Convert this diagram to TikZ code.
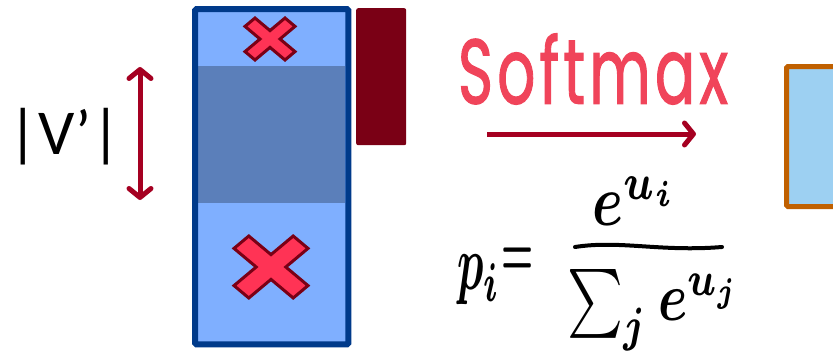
\documentclass[tikz,border=0pt]{standalone}
\usepackage{fontspec}
\usepackage{amsmath}
\usetikzlibrary{arrows.meta}
\newfontfamily\labelfont{Carlito}
\newfontfamily\handfont[FakeBold=1.5]{Poppins}
\definecolor{vecblue}{HTML}{7FAFFF}
\definecolor{vecedge}{HTML}{003A8A}
\definecolor{bandblue}{HTML}{5B7FBA}
\definecolor{darkred}{HTML}{7A0015}
\definecolor{crossred}{HTML}{FF3355}
\definecolor{arrowred}{HTML}{A50021}
\definecolor{handred}{HTML}{F0445A}
\definecolor{outblue}{HTML}{9DD0F2}
\definecolor{outedge}{HTML}{C06000}
\tikzset{
  crossmark/.style={fill=crossred, draw=darkred, line width=3pt, line join=miter},
  redline/.style={draw=arrowred, line width=5pt},
  barbtip/.tip={Straight Barb[length=9pt,width=22pt,line cap=round,line join=round]},
  ink/.style={inner sep=0pt, font=\boldmath},
}
\newcommand{\crossshape}{(-1,0.6) -- (-0.6,1) -- (0,0.4) -- (0.6,1) -- (1,0.6) -- (0.4,0) -- (1,-0.6) -- (0.6,-1) -- (0,-0.4) -- (-0.6,-1) -- (-1,-0.6) -- (-0.4,0) -- cycle}
\begin{document}
\begin{tikzpicture}[x=1pt,y=-1pt]
\useasboundingbox (0,0) rectangle (833,359);
\clip (0,0) rectangle (833,359);
% main vector
\node[fill=vecblue, minimum width=153pt, minimum height=335pt, inner sep=0pt, anchor=north west] (vec) at (195,9) {};
\fill[bandblue] (198,66) rectangle (345,203);
\draw[vecedge, line width=6pt, rounded corners=1.5pt] (vec.north west) rectangle (vec.south east);
% crosses
\begin{scope}[shift={(270,39)}, xscale=25, yscale=21]
  \path[crossmark] \crossshape;
\end{scope}
\begin{scope}[shift={(271,267)}, xscale=37, yscale=31]
  \path[crossmark] \crossshape;
\end{scope}
% dark red bar
\node[fill=darkred, rounded corners=2pt, minimum width=50pt, minimum height=137pt, inner sep=0pt, anchor=north west] (bar) at (356,8) {};
% |V'| label and arrow
\node[inner sep=0pt] (vlabel) at (65,137) {\labelfont\fontsize{64}{64}\selectfont |V’|};
\coordinate (vtop) at (140,67);
\coordinate (vbot) at (140,200);
\draw[redline, barbtip-barbtip] (vtop) -- (vbot);
% softmax
\node[inner sep=0pt, text=handred] (soft) at (593,69) {\resizebox{270pt}{70pt}{\handfont S\kern0.07em o\kern0.07em f\kern0.07em t\kern0.07em m\kern0.07em a\kern0.07em x}};
\coordinate (astart) at (487,134);
\coordinate (aend) at (696,134);
\draw[redline, -barbtip] (astart) -- (aend);
% formula
\node[ink] (pvar) at (479,280) {\scalebox{4.4}[7.8]{$p_i$}};
\node[ink] (peq) at (518,262) {\scalebox{3.6}[7]{$=$}};
\node[ink] (numer) at (635,201) {\scalebox{1}[1.3]{\resizebox{84pt}{!}{$e^{u_i}$}}};
\coordinate (bar1) at (575,247);
\coordinate (bar2) at (722,247);
\draw[line width=4pt, line cap=round] (bar1) .. controls (620,240) and (660,252) .. (bar2);
\node[ink] (denom) at (654,310) {\scalebox{1}[1.3]{\resizebox{172pt}{!}{$\sum_j e^{u_j}$}}};
% output box
\node[draw=outedge, fill=outblue, line width=5pt, rounded corners=1.5pt, minimum width=80pt, minimum height=140pt, inner sep=0pt, anchor=north west] (out) at (784,64) {};
\end{tikzpicture}
\end{document}
